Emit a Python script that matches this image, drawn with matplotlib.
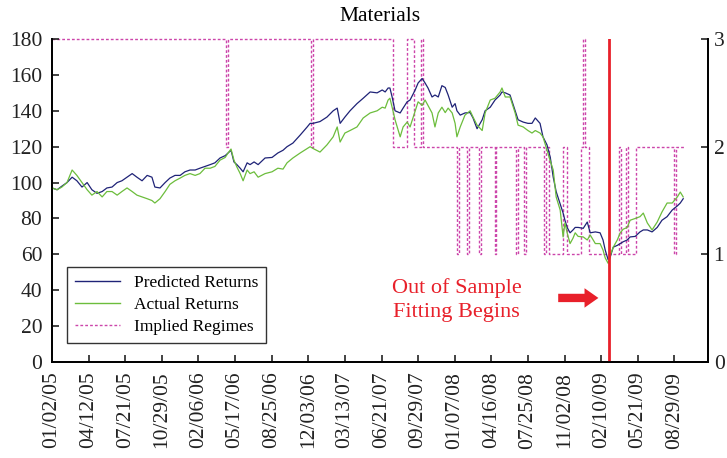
import matplotlib
matplotlib.use("Agg")
import matplotlib.pyplot as plt
from matplotlib.lines import Line2D

plt.rcParams['font.family'] = ['Liberation Serif', 'DejaVu Serif']

# ---- data (x = calendar days after 01/02/05) ----
days = [0, 14, 27, 41, 55, 68, 82, 96, 109, 123, 137, 150, 164, 178, 191, 205, 219, 232,
        246, 260, 273, 281, 295, 309, 322, 336, 350, 363, 377, 391, 404, 418, 432, 445,
        459, 473, 481, 489, 497, 505, 514, 522, 533, 541, 552, 563, 582, 601, 617, 631,
        642, 658, 678, 697, 705, 713, 732, 751, 768, 779, 787, 800, 814, 833, 850, 869,
        888, 902, 910, 918, 923, 929, 937, 951, 959, 970, 978, 992, 1000, 1011, 1019,
        1027, 1038, 1046, 1055, 1065, 1074, 1082, 1093, 1101, 1106, 1115, 1128, 1142,
        1150, 1161, 1175, 1183, 1197, 1210, 1224, 1229, 1238, 1251, 1265, 1273, 1287,
        1300, 1311, 1320, 1333, 1341, 1352, 1361, 1369, 1377, 1388, 1396, 1401, 1407,
        1415, 1423, 1429, 1437, 1451, 1462, 1470, 1484, 1497, 1505, 1511, 1519, 1524,
        1533, 1544, 1552, 1560, 1571, 1579, 1593, 1606, 1615, 1626, 1639, 1653, 1666,
        1680, 1694, 1708, 1716, 1724]

predicted = [97, 96, 98, 100, 103, 101, 97.5, 100, 96, 94, 95, 97, 97.5, 100, 101, 103,
             105, 103, 101, 104, 103, 97.5, 97, 100, 102.5, 104, 104, 106, 107, 107, 108,
             109, 110, 111, 113.7, 115, 116.5, 118, 111.5, 110, 108, 106, 111, 110, 111.5,
             110, 113.7, 114, 116.5, 118, 120, 122, 126.5, 131, 133, 133, 134, 136.5, 140,
             141.5, 133, 136.5, 140, 144, 147, 150.5, 150, 151.6, 150.5, 152.7, 152.7,
             147.7, 140, 138.8, 141.5, 145, 146, 151.6, 155.5, 158, 155.5, 152.7, 147.7,
             148.8, 147.7, 154, 153, 148.8, 142, 144, 140, 137.6, 138.8, 139, 136, 130,
             135, 140, 142, 146, 148.8, 150.5, 150, 148.8, 140, 135, 133.7, 133, 133, 136,
             133, 125.5, 121, 114, 103, 95, 88, 83, 79, 75, 72, 73.6, 75, 75, 74.5, 78, 72,
             72.5, 72, 68, 62.4, 57, 58, 64, 65, 66, 67, 68, 69.7, 70, 72.5, 73.6, 73.6,
             72.5, 75, 79, 81, 84.7, 87, 88.6, 91]

actual = [97, 96, 97.5, 100, 107, 104, 100, 96, 93, 95, 92, 95, 95, 93, 95, 97, 95, 93,
          92, 91, 90, 88.6, 91, 95, 99, 101, 102.5, 104, 105, 104, 105, 108, 108, 109,
          112.5, 114, 116.5, 118.7, 112.5, 108.7, 105, 101, 107, 105, 106, 103, 105, 106,
          108, 107.5, 111, 113.7, 116.5, 119, 120, 119, 117, 121, 125.5, 131, 122.6,
          127.6, 129, 131, 136, 138.8, 140, 142, 141.5, 146, 147, 142, 135, 125.5, 131,
          133.7, 131, 140, 145, 143, 146, 143, 138.8, 131, 138.8, 142, 139, 141.5, 138.8,
          133, 125.5, 131, 137.6, 140, 136.5, 132, 129, 138.8, 146, 147, 150.5, 152.7,
          147.7, 147.7, 138.8, 132, 131, 129, 127.6, 129, 127.6, 125.5, 118, 112, 107, 92,
          84.7, 69.7, 77.5, 72, 66, 69, 72, 70, 69.7, 68, 70.8, 66, 66, 62.4, 58, 55, 59,
          64, 68, 72, 74, 75, 79, 80, 81, 83, 77.5, 73.6, 78, 83.6, 88.6, 88.6, 92, 94.7,
          92]

regime_days = [0, 475, 481, 708, 712, 932, 970, 989, 1008, 1014, 1106, 1112, 1134, 1139,
               1167, 1171, 1210, 1214, 1268, 1272, 1290, 1294, 1344, 1350, 1358, 1396,
               1407, 1445, 1451, 1456, 1467, 1549, 1555, 1568, 1574, 1595, 1699, 1703, 1729]
regimes = [3, 2, 3, 2, 3, 2, 3, 2, 3, 2, 1, 2, 1, 2, 1, 2, 1, 2, 1, 2, 1, 2, 1, 2, 1, 2,
           1, 2, 3, 2, 1, 2, 1, 2, 1, 2, 1, 2, 2]

tick_days = list(range(0, 1701, 100))
tick_labels = ['01/02/05', '04/12/05', '07/21/05', '10/29/05', '02/06/06', '05/17/06',
               '08/25/06', '12/03/06', '03/13/07', '06/21/07', '09/29/07', '01/07/08',
               '04/16/08', '07/25/08', '11/02/08', '02/10/09', '05/21/09', '08/29/09']
oos_day = 1521

navy = '#1f2377'
green = '#6cbd3c'
pink = '#cc45aa'
red = '#e8202a'

fig = plt.figure(figsize=(7.27, 4.58), dpi=100)
ax = fig.add_axes([0.0715, 0.2096, 0.9025, 0.7052])
ax2 = ax.twinx()

ax2.plot(regime_days, regimes, drawstyle='steps-post', color=pink, lw=1.0,
         linestyle=(0, (2, 1.5)), clip_on=False)
ax2.set_ylim(0, 3)
ax2.set_yticks([0, 1, 2, 3])

ax.set_zorder(ax2.get_zorder() + 1)
ax.patch.set_visible(False)

ax.plot(days, predicted, color=navy, lw=0.9)
ax.plot(days, actual, color=green, lw=0.9)
ax.axvline(oos_day, color=red, lw=2)

ax.set_xlim(0, 1792)
ax.set_ylim(0, 180)
ax.set_yticks(range(0, 181, 20))
ax.set_xticks(tick_days)
ax.set_xticklabels(tick_labels, rotation=90)

for a in (ax, ax2):
    a.spines['top'].set_visible(False)
    a.tick_params(direction='in', length=5, width=1.2, labelsize=15.5, colors='#222222')
    for s in a.spines.values():
        s.set_linewidth(1.3)
ax.tick_params(axis='y', pad=7)
ax2.tick_params(axis='y', pad=4)
ax.tick_params(axis='x', pad=7)

ax.set_title('Materials', fontsize=15.5, pad=13)

ax.text(1105, 34.5, 'Out of Sample\nFitting Begins', color=red, fontsize=16,
        ha='center', va='center', linespacing=1.3)
ax.annotate('', xy=(1500, 35.7), xytext=(1375, 35.7),
            arrowprops=dict(arrowstyle='simple,head_length=1.0,head_width=1.4,tail_width=0.6',
                            color=red, lw=0))

handles = [Line2D([], [], color=navy, lw=1),
           Line2D([], [], color=green, lw=1),
           Line2D([], [], color=pink, lw=1, linestyle=(0, (2, 1.5)))]
leg = ax.legend(handles, ['Predicted Returns', 'Actual Returns', 'Implied Regimes'],
                loc='lower left', bbox_to_anchor=(0.023, 0.059), borderaxespad=0,
                fontsize=12.5, fancybox=False, framealpha=1, edgecolor='#333333',
                handlelength=2.6, labelspacing=0.35, borderpad=0.45)
leg.get_frame().set_linewidth(1.0)

fig.savefig('out.png', dpi=100)
